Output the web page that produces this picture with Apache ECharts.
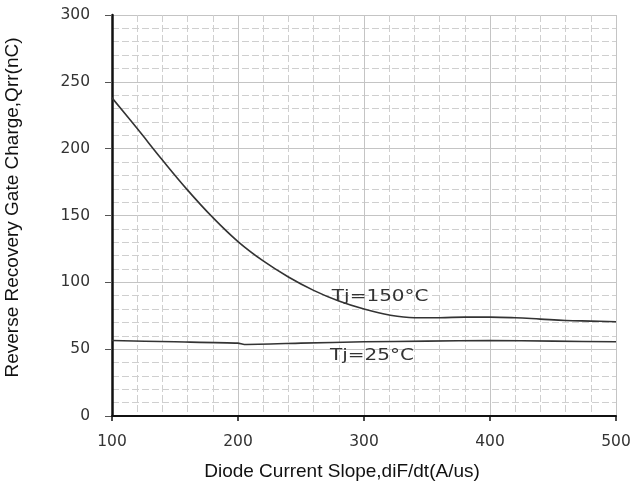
<!DOCTYPE html>
<html>
<head>
<meta charset="utf-8">
<script src="https://cdn.jsdelivr.net/npm/echarts@6/dist/echarts.min.js"></script>
<style>html,body{margin:0;padding:0;background:#fff;}#c{width:634px;height:484px;}</style>
</head>
<body>
<div id="c"></div>
<script>
var xTitle = 'Diode Current Slope,diF/dt(A/us)';
var yTitle = 'Reverse Recovery Gate Charge,Qrr(nC)';
var x150 = [100,120,140,160,180,200,220,240,260,280,300,320,340,360,380,400,420,440,460,480,500];
var y150 = [238,215,191.5,169,148.5,130.5,116,104,94,86,80,75.5,73.5,73.5,74,74,73.5,72.5,71.5,71,70.5];
var x25 = [100,150,200,205,250,300,350,400,450,500];
var y25 = [56.5,55.5,54.5,53.5,54.5,55.5,56,56.5,56,55.5];
var seriesLabels = ['Tj=150°C','Tj=25°C'];
var labelAnchors = [[274.5,89],[273,45]];

function pairs(xs, ys){ return xs.map(function(x,i){ return [x, ys[i]]; }); }

var chart = echarts.init(document.getElementById('c'));
var tickFont = {fontFamily:'DejaVu Sans', fontSize:15.5, color:'#333'};
chart.setOption({
  animation:false,
  grid:{left:112, right:18, top:15, bottom:68, containLabel:false, outerBoundsMode:'none'},
  xAxis:{
    type:'value', min:100, max:500, interval:100,
    name:xTitle, nameLocation:'middle', nameGap:46,
    nameTextStyle:{fontFamily:'Liberation Sans', fontSize:19, color:'#111', padding:[0,44,0,0]},
    axisLine:{lineStyle:{color:'#111', width:2}},
    axisTick:{show:true, length:5, lineStyle:{color:'#111', width:1.5}},
    axisLabel:Object.assign({margin:18}, tickFont),
    splitLine:{show:true, lineStyle:{color:'#c4c4c4', width:1}},
    minorTick:{show:false, splitNumber:5},
    minorSplitLine:{show:true, lineStyle:{color:'#cfcfcf', width:1, type:[7,3]}}
  },
  yAxis:{
    type:'value', min:0, max:300, interval:50,
    name:yTitle, nameLocation:'middle', nameGap:90,
    nameTextStyle:{fontFamily:'Liberation Sans', fontSize:19, color:'#111', padding:[0,0,0,16]},
    axisLine:{show:true, lineStyle:{color:'#111', width:2.5}},
    axisTick:{show:true, length:7, lineStyle:{color:'#555', width:1}},
    axisLabel:Object.assign({margin:22}, tickFont),
    splitLine:{show:true, lineStyle:{color:'#c4c4c4', width:1}},
    minorTick:{show:false, splitNumber:5},
    minorSplitLine:{show:true, lineStyle:{color:'#cfcfcf', width:1, type:[7,3]}}
  },
  series:[
    {type:'line', name:seriesLabels[0], data:pairs(x150,y150), smooth:0.4, symbol:'none',
     lineStyle:{color:'#333', width:1.6}},
    {type:'line', name:seriesLabels[1], data:pairs(x25,y25), smooth:0.2, symbol:'none',
     lineStyle:{color:'#333', width:1.6}}
  ]
});
var gfx = seriesLabels.map(function(t,i){
  var p = chart.convertToPixel({gridIndex:0}, labelAnchors[i]);
  return {type:'text', x:p[0], y:p[1], scaleX:1.25, z:10,
    style:{text:t, fontFamily:'DejaVu Sans', fontSize:16, fill:'#333', align:'left', verticalAlign:'middle'}};
});
chart.setOption({graphic:gfx});
</script>
</body>
</html>
